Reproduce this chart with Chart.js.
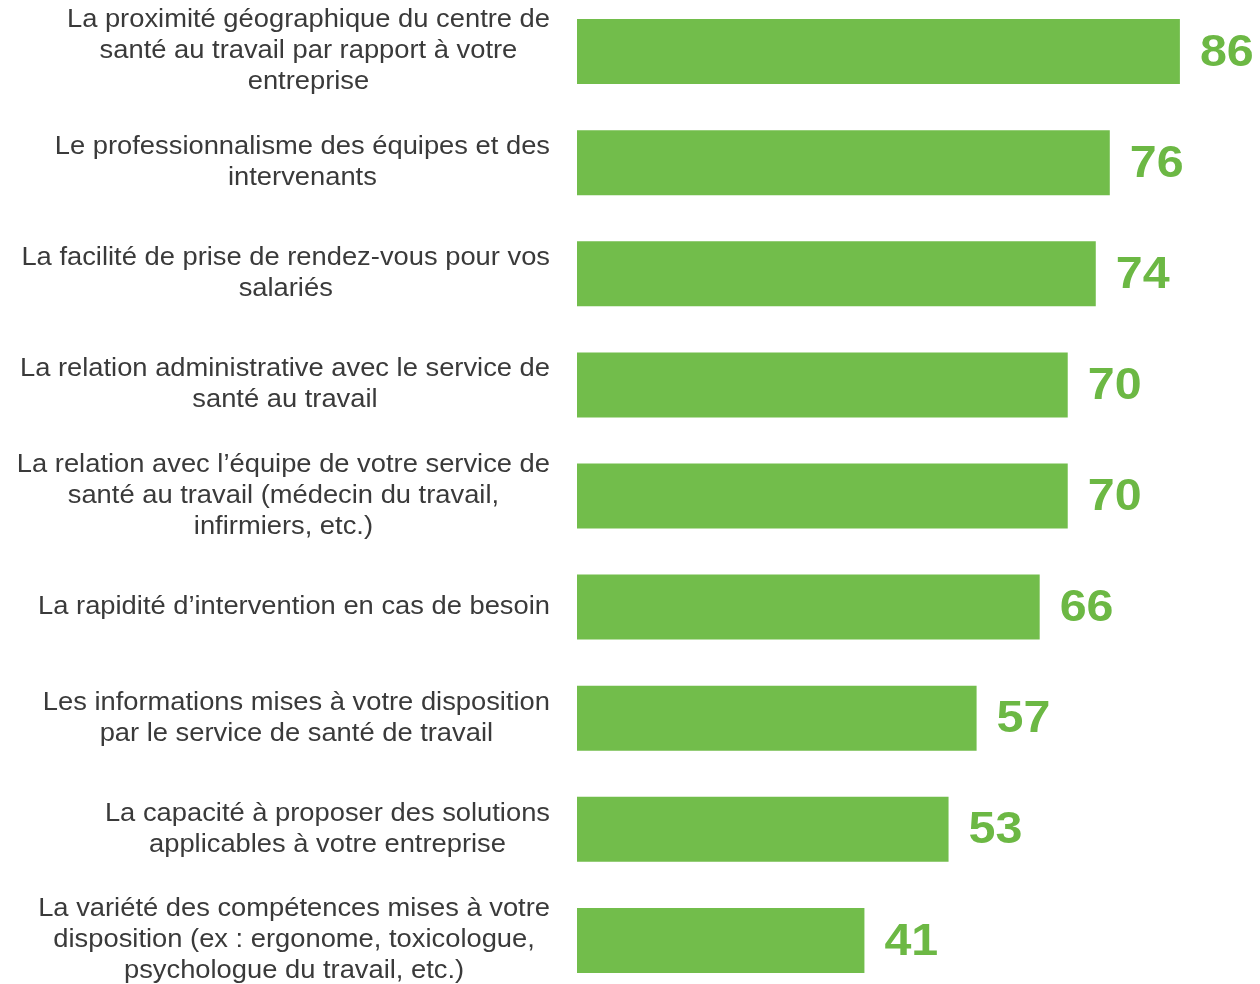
<!DOCTYPE html>
<html>
<head>
<meta charset="utf-8">
<script src="https://cdn.jsdelivr.net/npm/chart.js@4/dist/chart.umd.min.js"></script>
<style>
    html, body { margin: 0; padding: 0; background: #fff; overflow: hidden; }
    #wrap { position: absolute; left: 0; top: -4px; width: 1260px; height: 1000px; }
</style>
</head>
<body>
<div id="wrap"><canvas id="myChart"></canvas></div>
<script>
const labels = [
    ['La proximité géographique du centre de', 'santé au travail par rapport à votre', 'entreprise'],
    ['Le professionnalisme des équipes et des', 'intervenants'],
    ['La facilité de prise de rendez-vous pour vos', 'salariés'],
    ['La relation administrative avec le service de', 'santé au travail'],
    ['La relation avec l\u2019équipe de votre service de', 'santé au travail (médecin du travail,', 'infirmiers, etc.)'],
    ['La rapidité d\u2019intervention en cas de besoin'],
    ['Les informations mises à votre disposition', 'par le service de santé de travail'],
    ['La capacité à proposer des solutions', 'applicables à votre entreprise'],
    ['La variété des compétences mises à votre', 'disposition (ex : ergonome, toxicologue,', 'psychologue du travail, etc.)']
];
const values = [86, 76, 74, 70, 70, 66, 57, 53, 41];

const barColor = '#72bd4b';
const valueColor = '#6cb844';
const textColor = '#3a3a3a';

// etiquettes de gauche : bloc aligné à droite, lignes centrées dans le bloc
const sideLabels = {
    id: 'sideLabels',
    afterDraw(chart) {
        const ctx = chart.ctx;
        const y = chart.scales.y;
        const sx = 1.093; // texte un peu étiré comme dans l'original
        ctx.save();
        ctx.font = '25px "Liberation Sans", Arial, sans-serif';
        ctx.fillStyle = textColor;
        ctx.textAlign = 'center';
        ctx.textBaseline = 'middle';
        const lineH = 31;
        const right = 550;
        labels.forEach((lines, i) => {
            const cy = y.getPixelForValue(i);
            const w = Math.max(...lines.map(l => ctx.measureText(l).width)) * sx;
            const cx = right - w / 2;
            const top = cy - (lines.length - 1) * lineH / 2;
            lines.forEach((l, k) => {
                ctx.save();
                ctx.translate(cx, top + k * lineH);
                ctx.scale(sx, 1);
                ctx.fillText(l, 0, 0);
                ctx.restore();
            });
        });
        ctx.restore();
    }
};

// valeurs en vert au bout des barres
const valueLabels = {
    id: 'valueLabels',
    afterDatasetsDraw(chart) {
        const ctx = chart.ctx;
        const meta = chart.getDatasetMeta(0);
        ctx.save();
        ctx.font = 'bold 44px "Liberation Sans", Arial, sans-serif';
        ctx.fillStyle = valueColor;
        ctx.textAlign = 'left';
        ctx.textBaseline = 'middle';
        meta.data.forEach((bar, i) => {
            ctx.save();
            ctx.translate(bar.x + 20, bar.y + 2);
            ctx.scale(1.1, 1);
            ctx.fillText(values[i], 0, 0);
            ctx.restore();
        });
        ctx.restore();
    }
};

const ctx = document.getElementById('myChart').getContext('2d');
const chart = new Chart(ctx, {
    type: 'bar',
    data: {
        labels: labels.map(l => l.join(' ')),
        datasets: [{
            data: values,
            backgroundColor: barColor,
            borderWidth: 0,
            barPercentage: 0.585,
            categoryPercentage: 1
        }]
    },
    options: {
        indexAxis: 'y',
        responsive: true,
        maintainAspectRatio: false,
        animation: false,
        layout: { padding: { left: 577, right: 10, top: 0, bottom: 0 } },
        plugins: {
            legend: { display: false },
            tooltip: { enabled: false }
        },
        scales: {
            x: { display: false, min: 0, max: 96 },
            y: { display: false }
        }
    },
    plugins: [sideLabels, valueLabels]
});
</script>
</body>
</html>
